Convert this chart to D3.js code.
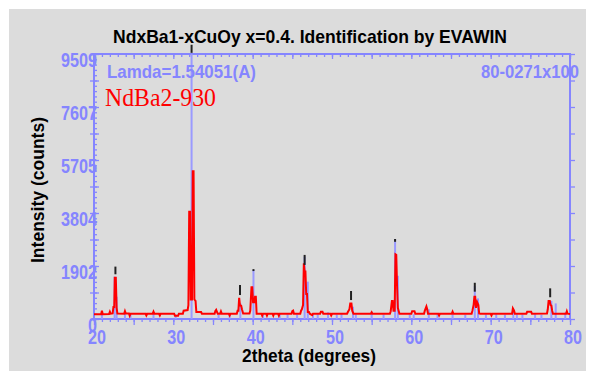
<!DOCTYPE html>
<html>
<head>
<meta charset="utf-8">
<script src="https://cdn.jsdelivr.net/npm/d3@7"></script>
<style>
  html, body { margin: 0; padding: 0; background: #fff; }
  svg { display: block; }
</style>
</head>
<body>
<div class="js-xrd-chart"></div>
<script>
var patternTheta = [
  20.0, 20.9, 21.0, 21.1, 21.9, 22.0, 22.1, 22.35, 22.45, 22.55, 22.62, 22.75, 22.85, 22.95,
  23.8, 23.9, 24.0, 24.4, 24.5, 24.6, 26.5, 26.6, 26.7, 27.4, 27.5, 27.6, 28.2, 28.3, 28.4,
  30.1, 30.2, 30.6, 30.7, 31.2, 31.3, 31.8, 31.9, 32.0, 32.1, 32.2, 32.35, 32.45, 32.55, 32.65,
  32.8, 32.9, 33.5, 33.6, 35.2, 35.3, 35.4, 35.5, 35.6, 35.9, 36.0, 36.1, 37.0, 37.1, 37.2,
  38.0, 38.1, 38.2, 38.3, 38.4, 38.55, 38.65, 38.8, 39.6, 39.7, 39.85, 39.95, 40.05, 40.2,
  40.3, 40.4, 40.5, 41.1, 41.2, 41.3, 41.7, 41.8, 41.9, 42.5, 42.6, 42.7, 43.2, 43.3, 43.4,
  44.9, 45.0, 45.1, 45.2, 46.0, 46.1, 46.2, 46.35, 46.45, 46.55, 46.65, 46.75, 46.85, 46.95,
  47.1, 47.2, 47.5, 47.6, 47.7, 48.5, 48.6, 48.8, 48.9, 49.8, 49.9, 50.0, 51.9, 52.0, 52.2,
  52.3, 52.45, 52.55, 52.7, 54.9, 55.0, 55.1, 57.3, 57.4, 57.55, 57.65, 57.75, 57.9, 58.0,
  58.1, 58.2, 58.3, 58.4, 58.5, 60.0, 60.1, 60.4, 60.5, 61.6, 61.7, 61.9, 62.0, 62.1, 63.4,
  63.5, 63.6, 65.1, 65.2, 65.3, 67.6, 67.7, 67.85, 67.95, 68.05, 68.15, 68.3, 68.45, 68.55,
  68.7, 70.0, 70.1, 70.2, 72.7, 72.8, 72.95, 73.05, 74.5, 74.6, 75.1, 75.2, 77.1, 77.2, 77.3,
  77.45, 77.55, 77.65, 77.75, 77.85, 79.5, 79.6, 79.7, 80.0
];
var patternCounts = [
  170, 170, 300, 170, 180, 260, 190, 200, 430, 430, 1480, 1480, 400, 200,
  190, 280, 200, 200, 120, 190, 190, 130, 190, 190, 260, 190, 190, 130, 190,
  190, 120, 120, 190, 190, 300, 320, 500, 3850, 3850, 700, 700, 5300, 5300, 700,
  650, 250, 250, 190, 190, 290, 330, 260, 190, 190, 270, 190, 190, 130, 190,
  190, 300, 300, 760, 500, 480, 350, 200, 200, 300, 1140, 1140, 600, 600,
  800, 800, 190, 190, 120, 190, 190, 120, 190, 190, 120, 190, 190, 120, 190,
  190, 280, 300, 190, 190, 300, 350, 500, 2000, 1700, 1700, 900, 900, 250,
  250, 190, 140, 190, 190, 190, 260, 260, 190, 190, 130, 190, 190, 250, 350,
  560, 560, 300, 190, 190, 240, 190, 190, 280, 650, 650, 300, 300, 2320,
  2300, 1200, 400, 300, 190, 190, 280, 280, 190, 190, 300, 450, 350, 190, 190,
  130, 190, 190, 260, 190, 190, 300, 500, 800, 800, 400, 600, 500, 200,
  190, 190, 130, 190, 190, 380, 300, 190, 190, 260, 260, 190, 200, 350, 650,
  650, 500, 480, 300, 190, 190, 280, 190, 180
];

// reference card 80-0271 sticks (2theta, counts on the same scale)
var stickTheta = [
  21.0, 22.6, 22.85, 23.9, 24.6, 27.5, 30.3, 32.3, 35.7, 37.1, 38.45, 40.1, 41.3, 43.4,
  44.4, 45.6, 46.55, 46.95, 47.6, 48.2, 49.5, 50.6, 51.2, 52.65, 53.0, 55.0, 56.5, 57.95,
  58.3, 59.8, 60.3, 62.2, 63.3, 65.2, 66.8, 68.0, 68.4, 69.4, 70.7, 71.8, 72.85, 73.3,
  74.0, 75.6, 76.4, 77.65, 78.2, 79.4
];
var stickCounts = [
  160, 1520, 800, 250, 170, 250, 160, 9509, 150, 170, 560, 1760, 150, 160,
  170, 160, 2240, 1340, 150, 170, 240, 160, 170, 440, 160, 260, 160, 2870,
  1550, 160, 170, 350, 160, 170, 150, 1180, 740, 160, 170, 150, 350, 170,
  160, 170, 150, 650, 560, 230
];

// identified peak markers (2theta, bottom counts, top counts)
var markerTheta = [22.7, 32.3, 38.4, 40.1, 46.55, 52.4, 57.95, 68.0, 77.5];
var markerLow = [1605, 9550, 860, 1720, 1940, 680, 2770, 980, 780];
var markerHigh = [1880, 9840, 1220, 1790, 2300, 1005, 2870, 1300, 1100];

var xTickLabels = [20, 30, 40, 50, 60, 70, 80];
var yTickLabels = [0, 1902, 3804, 5705, 7607, 9509];

(function() {
  function buildChart() {
    var width = 593
      , height = 379
      , axisColor = '#8585ff'
      , stickColor = '#9a9aff'
      , narrow = '"Liberation Sans Narrow", "Arial Narrow", "Liberation Sans", Arial, sans-serif'
      , digitWidth = 9
      , yMax = yTickLabels[yTickLabels.length - 1]
      , x = d3.scaleLinear().domain([20, 80]).range([94, 570])
      , y = d3.scaleLinear().domain([0, yMax]).range([319, 54])
      ;

    var svg = d3.select('.js-xrd-chart')
          .append('svg')
            .attr('width', width)
            .attr('height', height)
      ;

    svg.append('rect')
      .attr('x', 9)
      .attr('y', 9)
      .attr('width', 577)
      .attr('height', 362)
      .attr('fill', '#dcdcdc');

    // ticks
    function tickGroup(axis, tx, ty, size) {
      var g = svg.append('g')
        .attr('transform', 'translate(' + tx + ',' + ty + ')')
        .call(axis.tickSize(size).tickFormat(''));
      g.select('.domain').remove();
      g.selectAll('line').attr('stroke', axisColor).attr('stroke-width', 1.3);
      return g;
    }

    var degMinor = d3.range(20, 81, 1)
      , degMajor = d3.range(20, 81, 5)
      , cntMinor = d3.range(0, 51).map(i => i * yMax / 50)
      , cntMajor = d3.range(0, 11).map(i => i * yMax / 10)
      ;

    tickGroup(d3.axisBottom(x).tickValues(degMinor), 0, 319, 3);
    tickGroup(d3.axisBottom(x).tickValues(degMajor), 0, 319, 6);
    tickGroup(d3.axisBottom(x).tickValues(degMinor), 0, 54, 3);
    tickGroup(d3.axisBottom(x).tickValues(degMajor), 0, 54, 5);
    tickGroup(d3.axisRight(y).tickValues(cntMinor), 94, 0, 3);
    tickGroup(d3.axisRight(y).tickValues(cntMajor), 94, 0, 5);
    tickGroup(d3.axisLeft(y).tickValues(cntMajor), 94, 0, 4);
    tickGroup(d3.axisLeft(y).tickValues(cntMajor), 570, 0, -5);

    // frame
    svg.append('rect')
      .attr('x', x(20))
      .attr('y', y(yMax))
      .attr('width', x(80) - x(20))
      .attr('height', y(0) - y(yMax))
      .attr('fill', 'none')
      .attr('stroke', axisColor)
      .attr('stroke-width', 2);

    // reference sticks
    svg.append('g')
      .selectAll('line')
      .data(stickTheta)
      .enter()
      .append('line')
        .attr('x1', d => x(d))
        .attr('x2', d => x(d))
        .attr('y1', y(0))
        .attr('y2', (d, i) => y(stickCounts[i]))
        .attr('stroke', stickColor)
        .attr('stroke-width', 2);

    // measured pattern
    var line = d3.line()
      .x(d => x(d[0]))
      .y(d => y(d[1]));

    svg.append('path')
      .datum(patternTheta.map((t, i) => [t, patternCounts[i]]))
      .attr('d', line)
      .attr('fill', 'none')
      .attr('stroke', '#ff0000')
      .attr('stroke-width', 2)
      .attr('stroke-linejoin', 'miter');

    // peak markers
    svg.append('g')
      .selectAll('line')
      .data(markerTheta)
      .enter()
      .append('line')
        .attr('x1', d => x(d))
        .attr('x2', d => x(d))
        .attr('y1', (d, i) => y(markerLow[i]))
        .attr('y2', (d, i) => y(markerHigh[i]))
        .attr('stroke', '#222')
        .attr('stroke-width', 2);

    // tick labels
    svg.append('g')
      .attr('font-family', narrow)
      .attr('font-size', 20)
      .attr('font-weight', 'bold')
      .attr('fill', axisColor)
      .attr('text-anchor', 'middle')
      .selectAll('text')
      .data(xTickLabels)
      .enter()
      .append('text')
        .attr('x', d => x(d) + 3)
        .attr('y', 344)
        .attr('textLength', d => String(d).length * digitWidth)
        .attr('lengthAdjust', 'spacingAndGlyphs')
        .text(d => d);

    svg.append('g')
      .attr('font-family', narrow)
      .attr('font-size', 20)
      .attr('font-weight', 'bold')
      .attr('fill', axisColor)
      .attr('text-anchor', 'end')
      .selectAll('text')
      .data(yTickLabels)
      .enter()
      .append('text')
        .attr('x', 97)
        .attr('y', d => y(d) + 13)
        .attr('textLength', d => String(d).length * digitWidth)
        .attr('lengthAdjust', 'spacingAndGlyphs')
        .text(d => d);

    // titles
    svg.append('text')
      .attr('x', 310)
      .attr('y', 43)
      .attr('text-anchor', 'middle')
      .attr('font-family', narrow)
      .attr('font-weight', 'bold')
      .attr('font-size', 19)
      .attr('textLength', 394)
      .attr('lengthAdjust', 'spacingAndGlyphs')
      .text('NdxBa1-xCuOy x=0.4. Identification by EVAWIN');

    svg.append('text')
      .attr('x', 309)
      .attr('y', 362)
      .attr('text-anchor', 'middle')
      .attr('font-family', narrow)
      .attr('font-weight', 'bold')
      .attr('font-size', 19)
      .attr('textLength', 134)
      .attr('lengthAdjust', 'spacingAndGlyphs')
      .text('2theta (degrees)');

    svg.append('text')
      .attr('transform', 'translate(44,190) rotate(-90)')
      .attr('text-anchor', 'middle')
      .attr('font-family', narrow)
      .attr('font-weight', 'bold')
      .attr('font-size', 19)
      .attr('textLength', 146)
      .attr('lengthAdjust', 'spacingAndGlyphs')
      .text('Intensity (counts)');

    svg.append('text')
      .attr('x', 107)
      .attr('y', 78)
      .attr('font-family', narrow)
      .attr('font-size', 19)
      .attr('font-weight', 'bold')
      .attr('fill', axisColor)
      .attr('textLength', 149)
      .attr('lengthAdjust', 'spacingAndGlyphs')
      .text('Lamda=1.54051(A)');

    svg.append('text')
      .attr('x', 579)
      .attr('y', 78)
      .attr('text-anchor', 'end')
      .attr('font-family', narrow)
      .attr('font-size', 19)
      .attr('font-weight', 'bold')
      .attr('fill', axisColor)
      .attr('textLength', 98)
      .attr('lengthAdjust', 'spacingAndGlyphs')
      .text('80-0271x100');

    svg.append('text')
      .attr('x', 105)
      .attr('y', 106)
      .attr('font-family', '"Liberation Serif", "Times New Roman", serif')
      .attr('font-size', 25)
      .attr('fill', '#ff0000')
      .attr('textLength', 111)
      .attr('lengthAdjust', 'spacingAndGlyphs')
      .text('NdBa2-930');
  }

  buildChart();
})();
</script>
</body>
</html>
